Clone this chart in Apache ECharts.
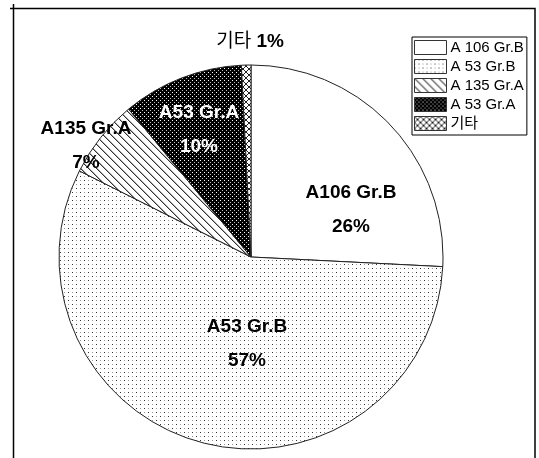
<!DOCTYPE html>
<html>
<head>
<meta charset="utf-8">
<script src="https://cdn.jsdelivr.net/npm/echarts@6/dist/echarts.min.js"></script>
<style>
  html, body { margin: 0; padding: 0; background: #fff; }
  #chart { width: 539px; height: 458px; }
</style>
</head>
<body>
<div id="chart"></div>
<script>
// 데이터
const legendNames = ['A 106 Gr.B', 'A 53 Gr.B', 'A 135 Gr.A', 'A 53 Gr.A', '기타']
const labelNames = ['A106 Gr.B', 'A53 Gr.B', 'A135 Gr.A', 'A53 Gr.A', '기타']
const shares = [25.8, 56.6, 6.6, 10.2, 0.8]

// 라벨 위치 (엑셀 원본 배치)
const labelPos = [[351, 210], [247, 344], [86, 146], [199, 130], [250, 42]]

const FONT = 'Liberation Sans, Arial, Noto Sans CJK KR, sans-serif'

// 패턴 채우기
function makePattern(size, draw) {
  const c = document.createElement('canvas')
  c.width = size
  c.height = size
  const ctx = c.getContext('2d')
  draw(ctx)
  return { image: c, repeat: 'repeat' }
}
function px(ctx, x, y, col) {
  ctx.fillStyle = col
  ctx.fillRect(x, y, 1, 1)
}

const fills = [
  '#ffffff',
  makePattern(8, ctx => {
    ctx.fillStyle = '#fff'
    ctx.fillRect(0, 0, 8, 8)
    px(ctx, 0, 0, '#333')
    px(ctx, 4, 0, '#999')
    px(ctx, 0, 4, '#999')
    px(ctx, 4, 4, '#333')
  }),
  makePattern(8, ctx => {
    ctx.fillStyle = '#fff'
    ctx.fillRect(0, 0, 8, 8)
    for (let i = 0; i < 8; i++) {
      px(ctx, i, i, '#333')
      px(ctx, (i + 1) % 8, i, '#aaa')
    }
  }),
  makePattern(4, ctx => {
    ctx.fillStyle = '#000'
    ctx.fillRect(0, 0, 4, 4)
    px(ctx, 0, 0, '#fff')
    px(ctx, 2, 2, '#bbb')
  }),
  makePattern(6, ctx => {
    ctx.fillStyle = '#fff'
    ctx.fillRect(0, 0, 6, 6)
    for (let i = 0; i < 6; i++) {
      px(ctx, i, i, '#222')
      px(ctx, i, 5 - i, '#222')
    }
  })
]

const pieData = shares.map((v, i) => ({
  name: legendNames[i],
  value: v,
  itemStyle: { color: fills[i] },
  label: i === 3 ? { color: '#fff' } : {}
}))

const myChart = echarts.init(document.getElementById('chart'))
const option = {
  animation: false,
  backgroundColor: '#fff',
  legend: {
    orient: 'vertical',
    left: 412,
    top: 37,
    padding: [3, 3, 4, 2],
    borderColor: '#000',
    borderWidth: 1,
    borderRadius: 0,
    icon: 'rect',
    itemWidth: 32,
    itemHeight: 14,
    itemGap: 4,
    selectedMode: false,
    itemStyle: { borderColor: '#333', borderWidth: 1 },
    textStyle: { fontFamily: FONT, fontSize: 15, lineHeight: 14, color: '#000', padding: [0, 0, 0, -1] },
    data: legendNames
  },
  graphic: [
    {
      type: 'polyline',
      shape: { points: [[10, 8.5], [535, 8.5], [535, 458]] },
      style: { stroke: '#000', lineWidth: 1.5, fill: null }
    },
    {
      type: 'line',
      shape: { x1: 13.5, y1: 4, x2: 13.5, y2: 458 },
      style: { stroke: '#000', lineWidth: 1.5 }
    }
  ],
  series: [
    {
      type: 'pie',
      center: [251, 257],
      radius: 192,
      startAngle: 90,
      clockwise: true,
      data: pieData,
      itemStyle: { borderColor: '#222', borderWidth: 1 },
      emphasis: { disabled: true },
      labelLine: { show: false },
      label: {
        position: 'inside',
        fontFamily: FONT,
        fontSize: 19,
        fontWeight: 'bold',
        color: '#000',
        lineHeight: 34,
        align: 'center',
        textBorderWidth: 0,
        textBorderColor: 'transparent',
        formatter: params => {
          const pct = Math.round(params.percent) + '%'
          if (params.dataIndex === 4) {
            return '{n|' + labelNames[4] + '} {p|' + pct + '}'
          }
          return labelNames[params.dataIndex] + '\n' + pct
        },
        rich: {
          n: { fontFamily: FONT, fontSize: 19, fontWeight: 'normal', color: '#000' },
          p: { fontFamily: FONT, fontSize: 19, fontWeight: 'bold', color: '#000' }
        }
      },
      labelLayout: params => {
        const p = labelPos[params.dataIndex]
        return { x: p[0], y: p[1], align: 'center', verticalAlign: 'middle' }
      }
    }
  ]
}
myChart.setOption(option)
</script>
</body>
</html>
